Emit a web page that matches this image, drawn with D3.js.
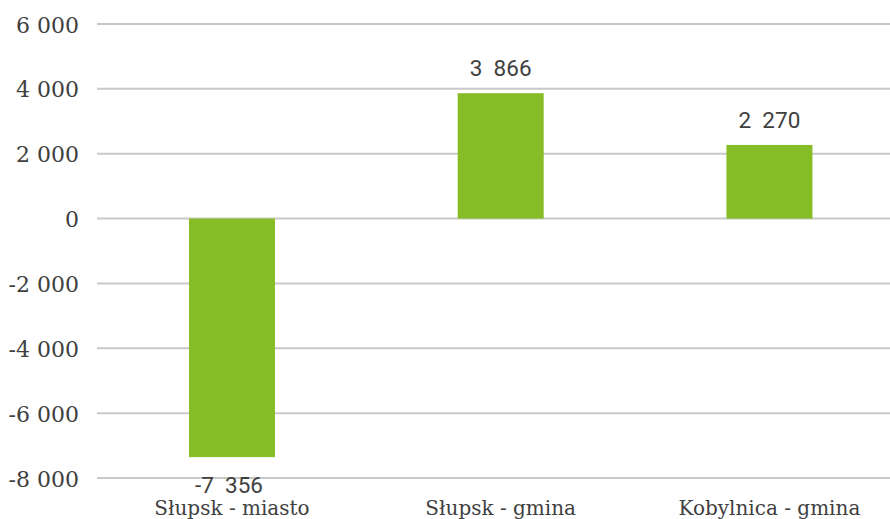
<!DOCTYPE html>
<html><head><meta charset="utf-8">
<script src="https://cdn.jsdelivr.net/npm/d3@7"></script>
<style>body{margin:0;background:#fff}svg{display:block}</style>
</head><body>
<svg id="c" width="890" height="519"></svg>
<script>
const categories = ["Słupsk - miasto", "Słupsk - gmina", "Kobylnica - gmina"];
const values = [-7356, 3866, 2270];
const valueLabels = ["-7  356", "3  866", "2  270"];
const tickValues = [-8000, -6000, -4000, -2000, 0, 2000, 4000, 6000];
const tickLabels = ["-8 000", "-6 000", "-4 000", "-2 000", "0", "2 000", "4 000", "6 000"];

const svg = d3.select("#c");
const y = d3.scaleLinear().domain([-8000, 6000]).range([478, 24]);
const x = d3.scaleBand().domain(categories).range([97.6, 903.8]).paddingInner(0.68).paddingOuter(0.34);
const txt = "#404040";

// gridlines
svg.append("g").selectAll("line").data(tickValues).join("line")
  .attr("x1", 97).attr("x2", 890)
  .attr("y1", d => y(d)).attr("y2", d => y(d))
  .attr("stroke", "#c8c8c8").attr("stroke-width", 2);

// tick labels
svg.append("g").selectAll("text").data(tickValues).join("text")
  .attr("x", 79).attr("y", d => y(d) + 8.5)
  .attr("text-anchor", "end")
  .attr("font-family", "'DejaVu Serif', serif").attr("font-size", 22)
  .attr("fill", txt)
  .text((d, i) => tickLabels[i]);

// bars
svg.append("g").selectAll("rect").data(values).join("rect")
  .attr("x", (d, i) => x(categories[i]))
  .attr("width", x.bandwidth())
  .attr("y", d => Math.min(y(d), y(0)))
  .attr("height", d => Math.abs(y(d) - y(0)))
  .attr("fill", "#86bc25");

// value labels
svg.append("g").selectAll("text").data(values).join("text")
  .attr("x", (d, i) => x(categories[i]) + x.bandwidth() / 2 - (d < 0 ? 3 : 0))
  .attr("y", d => d >= 0 ? y(d) - 17 : y(d) + 36)
  .attr("text-anchor", "middle")
  .attr("font-family", "Roboto, sans-serif").attr("font-size", 22.5)
  .attr("fill", txt)
  .style("white-space", "pre")
  .text((d, i) => valueLabels[i]);

// category labels
svg.append("g").selectAll("text").data(categories).join("text")
  .attr("x", d => x(d) + x.bandwidth() / 2)
  .attr("y", 515)
  .attr("text-anchor", "middle")
  .attr("font-family", "'DejaVu Serif', serif").attr("font-size", 20)
  .attr("fill", txt)
  .text(d => d);
</script>
</body></html>
